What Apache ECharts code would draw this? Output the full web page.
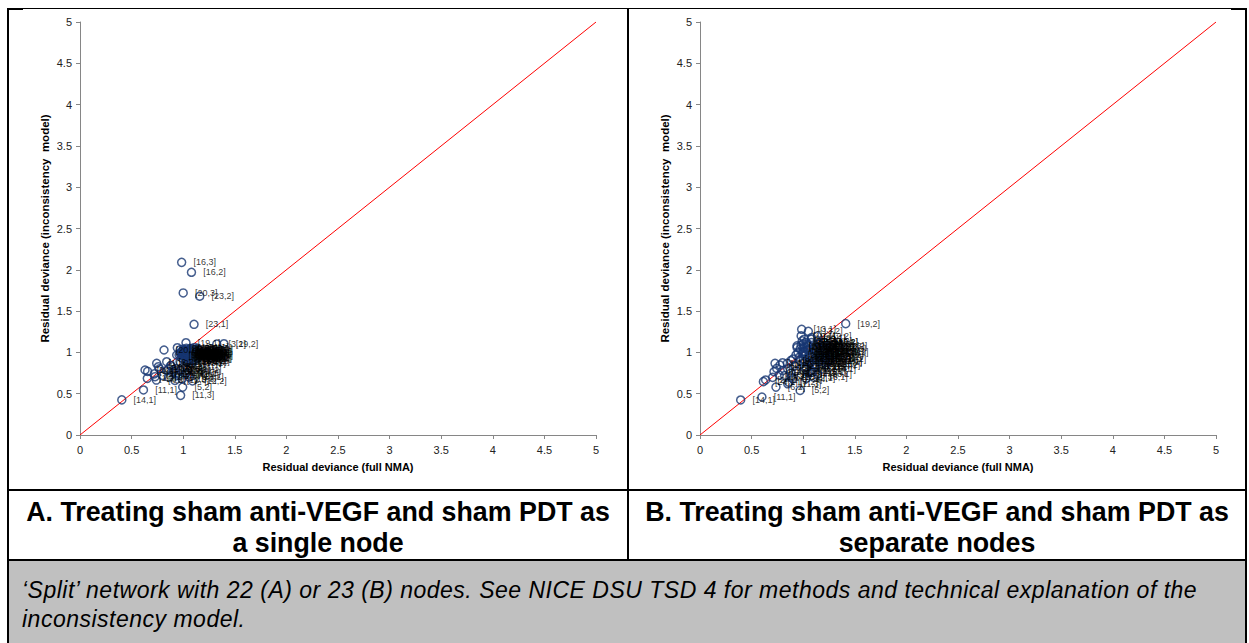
<!DOCTYPE html>
<html>
<head>
<meta charset="utf-8">
<script src="https://cdn.jsdelivr.net/npm/echarts@6/dist/echarts.min.js"></script>
<style>
  html, body { margin: 0; padding: 0; background: #fff; }
  body { width: 1249px; height: 643px; position: relative; overflow: hidden;
         font-family: "Liberation Sans", Arial, sans-serif; }
  #chart { position: absolute; left: 0; top: 0; width: 1249px; height: 489px; }
  .rule { position: absolute; background: #000; }
  .title { position: absolute; top: 497px; font-weight: bold; font-size: 26.8px;
           line-height: 31px; text-align: center; color: #000; white-space: nowrap; }
  #caption { position: absolute; left: 9px; top: 561px; width: 1236px; height: 82px; background: #c0c0c0; }
  #caption p { position: absolute; left: 13px; top: 15px; margin: 0; font-style: italic;
               font-size: 23px; letter-spacing: 0.5px; line-height: 29px; color: #000; white-space: nowrap; }
</style>
</head>
<body>
<div id="chart"></div>

<div id="caption"><p>‘Split’ network with 22 (A) or 23 (B) nodes. See NICE DSU TSD 4 for methods and technical explanation of the<br>inconsistency model.</p></div>

<div class="title" style="left:9px;width:618px;">A. Treating sham anti-VEGF and sham PDT as<br>a single node</div>
<div class="title" style="left:629px;width:616px;">B. Treating sham anti-VEGF and sham PDT as<br>separate nodes</div>

<!-- table rules -->
<div class="rule" style="left:7px;top:8px;width:1240px;height:1px;"></div>
<div class="rule" style="left:7px;top:8px;width:16px;height:2px;"></div>
<div class="rule" style="left:1231px;top:8px;width:16px;height:2px;"></div>
<div class="rule" style="left:7px;top:8px;width:2px;height:635px;"></div>
<div class="rule" style="left:1245px;top:8px;width:2px;height:635px;"></div>
<div class="rule" style="left:627px;top:8px;width:2px;height:552px;"></div>
<div class="rule" style="left:7px;top:489px;width:1240px;height:2px;"></div>
<div class="rule" style="left:7px;top:559px;width:1240px;height:2px;"></div>

<script>
// Data-point labels [study, arm], shared by both panels
const pointLabels = [
  '[16,3]','[16,2]','[20,3]','[23,2]','[23,1]','[19,1]','[3,1]','[29,2]','[14,1]','[11,1]',
  '[11,3]','[5,2]','[12,2]','[20,1]','[20,2]',
  '[14,2]','[1,1]','[1,2]','[4,1]','[10,1]','[10,2]','[6,1]','[6,2]','[2,1]','[9,1]',
  '[9,2]','[27,1]','[27,2]','[8,1]','[7,1]','[7,2]','[2,2]','[24,1]','[4,2]',
  '[15,1]','[15,2]','[17,1]','[17,2]','[18,1]','[18,2]','[21,1]','[21,2]','[22,1]','[22,2]',
  '[25,1]','[25,2]','[26,1]','[26,2]','[28,1]','[28,2]',
  '[3,2]','[5,1]','[8,2]','[12,1]','[13,1]','[13,2]','[19,2]','[29,1]','[30,1]','[30,2]',
  '[31,1]','[31,2]','[32,1]','[32,2]','[33,1]','[33,2]','[34,1]','[34,2]',
  '[24,2]','[35,1]','[35,2]','[36,1]','[36,2]','[37,1]','[37,2]','[11,2]','[16,1]','[23,3]',
  '[19,3]','[12,3]',
  '[38,1]','[38,2]','[39,1]','[39,2]','[40,1]','[40,2]','[41,1]','[41,2]','[42,1]','[42,2]',
  '[43,1]','[43,2]','[44,1]','[44,2]','[45,1]','[45,2]','[46,1]','[46,2]','[47,1]','[47,2]',
  '[48,1]','[48,2]','[49,1]','[49,2]','[50,1]','[50,2]','[51,1]','[51,2]','[52,1]','[52,2]',
  '[53,1]','[53,2]','[54,1]','[54,2]','[55,1]'
];

// Panel A: residual deviance, full NMA (x) vs inconsistency model (y)
const fullNmaA = [
  0.985,1.08,1.00,1.16,1.105,1.027,1.325,1.395,0.405,0.615,
  0.975,0.995,1.09,0.814,0.943,
  0.63,0.655,0.652,0.727,0.759,0.743,0.84,0.84,0.904,0.937,
  0.969,0.72,0.77,0.88,0.80,0.86,0.93,1.03,0.74,
  0.96,0.98,1.00,1.01,0.99,1.02,0.97,1.04,1.00,0.98,
  1.03,1.05,0.995,1.01,0.97,1.06,
  1.02,1.04,1.06,1.08,1.10,1.12,1.14,1.05,1.09,1.13,
  1.11,1.07,1.15,1.03,1.08,1.12,1.01,1.06,
  0.88,0.93,0.97,1.00,1.04,0.90,0.95,1.02,1.06,0.86,
  0.99,0.92,
  1.00,1.02,1.04,1.06,1.08,1.10,1.12,1.14,1.01,1.03,
  1.05,1.07,1.09,1.11,1.13,1.15,1.04,1.08,1.12,1.06,
  1.01,1.03,1.05,1.07,1.09,1.11,1.13,1.02,1.06,1.10,
  1.14,1.04,1.08,1.12,1.00
];
const inconsistencyA = [
  2.09,1.97,1.72,1.68,1.34,1.117,1.10,1.105,0.425,0.545,
  0.48,0.58,0.655,1.029,1.057,
  0.787,0.77,0.686,0.706,0.827,0.868,0.778,0.887,0.787,0.968,
  0.887,0.74,0.80,0.84,0.72,0.70,0.75,0.75,0.665,
  0.97,1.00,0.99,1.02,0.96,0.98,1.03,1.00,1.04,0.94,
  0.95,1.03,1.01,0.97,0.99,0.98,
  1.00,0.96,1.02,0.98,1.04,0.95,1.00,0.92,0.90,0.93,
  1.06,1.05,0.97,0.89,0.87,0.99,0.95,0.98,
  0.84,0.80,0.78,0.82,0.79,0.76,0.72,0.74,0.70,0.80,
  0.68,0.66,
  0.92,1.03,0.99,0.94,1.01,0.97,1.03,0.93,0.99,1.05,
  0.97,0.91,1.02,0.96,1.00,1.03,0.88,0.95,0.90,1.00,
  0.98,0.94,1.00,0.96,1.04,0.92,0.98,1.01,1.03,0.95,
  1.05,0.90,0.99,1.01,0.96
];

// Panel B
const fullNmaB = [
  1.10,1.15,1.00,1.20,1.08,0.98,1.25,1.30,0.394,0.60,
  0.85,0.97,1.137,0.90,0.94,
  0.704,0.727,0.775,0.80,0.846,0.743,0.717,0.736,1.027,0.768,
  0.88,0.82,0.85,0.88,0.90,0.86,1.05,0.614,0.80,
  0.95,0.97,0.99,1.00,0.96,1.01,0.98,1.02,0.94,1.00,
  1.03,0.97,0.99,1.04,0.93,1.01,
  1.337,1.05,1.10,1.15,0.985,1.05,1.412,1.20,1.25,1.12,
  1.18,1.08,1.22,1.28,1.14,1.06,1.17,1.24,
  0.636,0.93,0.88,1.10,1.12,1.03,1.07,0.92,1.13,1.19,
  1.26,1.02,
  1.00,1.04,1.08,1.12,1.16,1.20,1.24,1.28,1.02,1.06,
  1.10,1.14,1.18,1.22,1.26,1.09,1.13,1.05,1.17,1.21,
  1.03,1.07,1.11,1.15,1.19,1.23,1.01,1.05,1.09,1.13,
  1.17,1.21,1.08,1.16,1.12
];
const inconsistencyB = [
  1.05,1.10,1.10,1.12,1.16,1.20,1.05,1.00,0.424,0.46,
  0.62,0.54,1.198,0.92,1.06,
  0.698,0.868,0.847,0.875,0.868,0.807,0.766,0.58,0.686,0.726,
  0.90,0.72,0.80,0.75,0.68,0.64,0.75,0.646,0.78,
  1.00,1.04,0.98,1.06,0.94,1.01,1.09,0.96,1.08,0.92,
  1.12,0.90,1.14,1.03,0.97,1.16,
  1.077,0.95,0.90,0.98,1.28,1.255,1.348,0.93,0.97,0.82,
  0.86,0.78,1.02,0.92,0.74,0.86,1.06,0.88,
  0.666,0.78,0.70,0.70,1.02,0.82,0.98,0.84,0.94,0.99,
  1.08,0.89,
  1.00,1.10,1.18,1.08,0.95,1.12,0.90,1.04,0.80,0.88,
  1.00,1.14,0.80,0.85,1.00,0.76,0.92,1.02,0.96,1.08,
  1.06,0.94,1.04,0.90,1.02,0.95,0.98,1.08,0.84,1.06,
  0.92,1.00,1.12,1.10,0.86
];

// Axis range shared by both panels
const axisMin = 0, axisMax = 5, axisStep = 0.5;
const lineOfEquality = [[0, 0], [5, 5]];

const xAxisTitle = 'Residual deviance (full NMA)';
const yAxisTitle = 'Residual deviance (inconsistency  model)';

const FONT = '"Liberation Sans", Arial, sans-serif';

function toPoints(xs, ys) {
  return xs.map((x, i) => ({ name: pointLabels[i], value: [x, ys[i]] }));
}

function axis(dim, idx) {
  const isX = dim === 'x';
  return {
    type: 'value', gridIndex: idx, min: axisMin, max: axisMax, interval: axisStep,
    name: isX ? xAxisTitle : yAxisTitle,
    nameLocation: 'middle',
    nameGap: isX ? 26 : 29,
    nameTextStyle: { fontFamily: FONT, fontWeight: 'bold', fontSize: isX ? 11 : 11.5, color: '#000' },
    axisLine: { show: true, onZero: false, lineStyle: { color: '#868686', width: 1 } },
    axisTick: { show: true, length: 4, lineStyle: { color: '#868686' } },
    axisLabel: { fontFamily: FONT, fontSize: 11, color: '#222', margin: isX ? 9 : 8 },
    splitLine: { show: false }
  };
}

function scatter(idx, xs, ys) {
  return {
    type: 'scatter', xAxisIndex: idx, yAxisIndex: idx, z: 3,
    symbol: 'circle', symbolSize: 8,
    itemStyle: { color: 'rgba(255,255,255,0)', borderColor: '#173672', borderWidth: 1.5 },
    label: { show: true, position: 'right', distance: 7, formatter: '{b}',
             fontFamily: FONT, fontSize: 9, color: '#000',
             textBorderWidth: 0, textShadowBlur: 0 },
    emphasis: { disabled: true },
    data: toPoints(xs, ys)
  };
}

function diagonal(idx) {
  return {
    type: 'line', xAxisIndex: idx, yAxisIndex: idx, z: 2,
    data: lineOfEquality, symbol: 'none',
    lineStyle: { color: '#ff0000', width: 1 },
    emphasis: { disabled: true }
  };
}

const chart = echarts.init(document.getElementById('chart'), null, { renderer: 'svg' });
chart.setOption({
  animation: false,
  backgroundColor: 'transparent',
  grid: [
    { left: 80, top: 22, width: 516, height: 413 },
    { left: 700, top: 22, width: 516, height: 413 }
  ],
  xAxis: [axis('x', 0), axis('x', 1)],
  yAxis: [axis('y', 0), axis('y', 1)],
  series: [
    diagonal(0), scatter(0, fullNmaA, inconsistencyA),
    diagonal(1), scatter(1, fullNmaB, inconsistencyB)
  ]
});
</script>
</body>
</html>
